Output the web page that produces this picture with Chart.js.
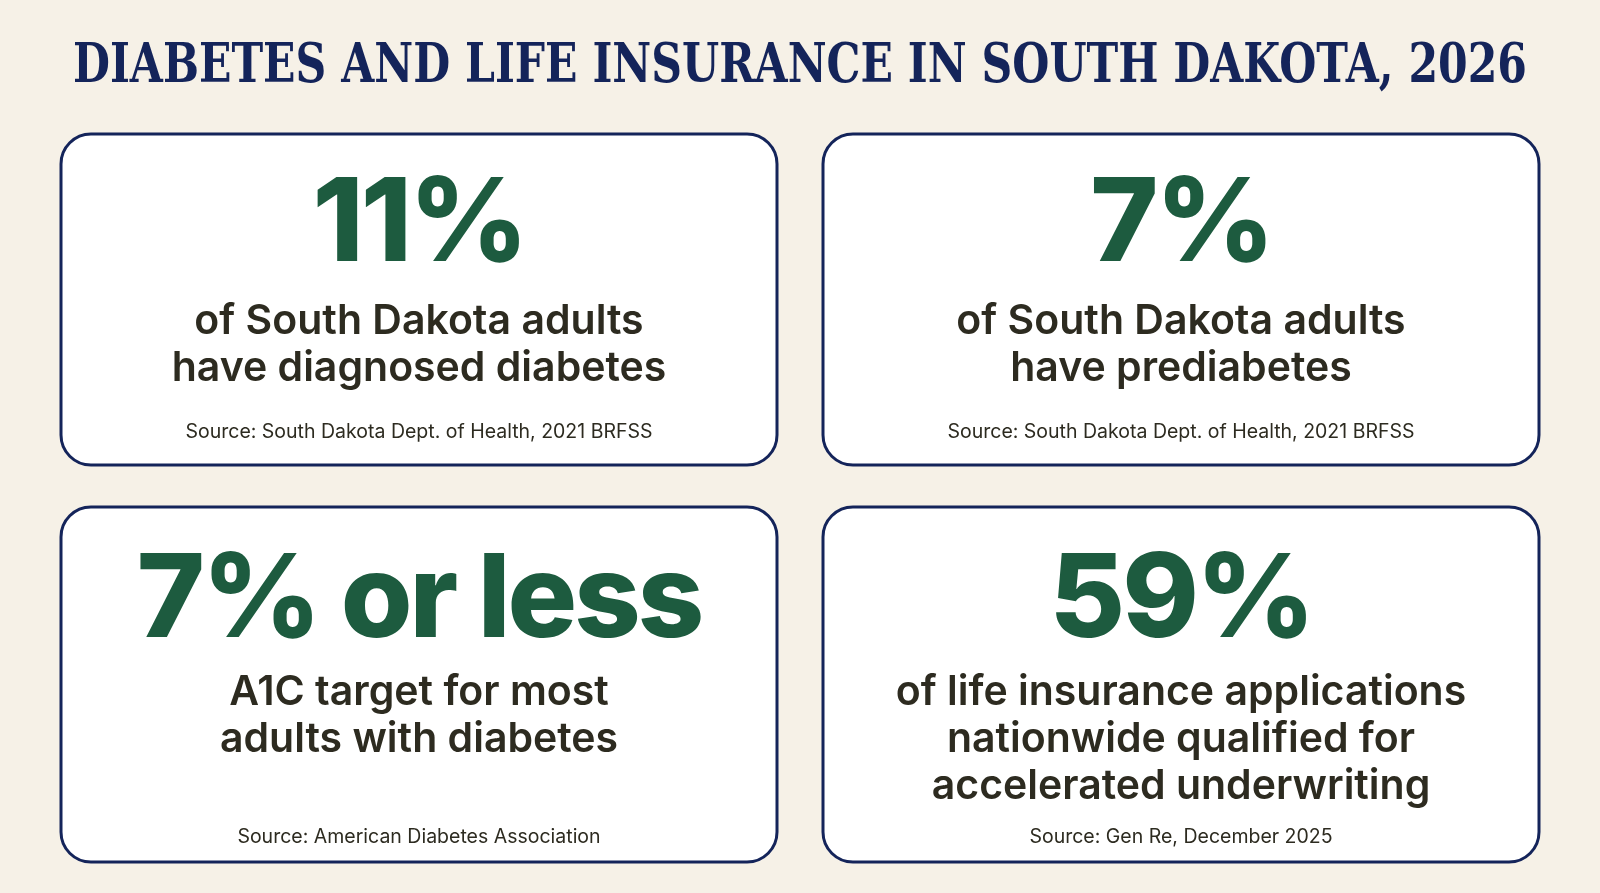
<!DOCTYPE html>
<html><head><meta charset="utf-8">
<script src="https://cdn.jsdelivr.net/npm/chart.js@4"></script>
<style>html,body{margin:0;padding:0;background:#f6f1e7;overflow:hidden}</style>
</head><body>
<canvas id="c" width="1600" height="893"></canvas>
<script>
const title = 'DIABETES AND LIFE INSURANCE IN SOUTH DAKOTA, 2026';
const stats = ['11%', '7%', '7% or less', '59%'];
const descriptions = [
  ['of South Dakota adults', 'have diagnosed diabetes'],
  ['of South Dakota adults', 'have prediabetes'],
  ['A1C target for most', 'adults with diabetes'],
  ['of life insurance applications', 'nationwide qualified for', 'accelerated underwriting']
];
const sources = [
  'Source: South Dakota Dept. of Health, 2021 BRFSS',
  'Source: South Dakota Dept. of Health, 2021 BRFSS',
  'Source: American Diabetes Association',
  'Source: Gen Re, December 2025'
];

function rr(ctx,x,y,w,h,r){ctx.beginPath();ctx.moveTo(x+r,y);ctx.arcTo(x+w,y,x+w,y+h,r);ctx.arcTo(x+w,y+h,x,y+h,r);ctx.arcTo(x,y+h,x,y,r);ctx.arcTo(x,y,x+w,y,r);ctx.closePath();}

const infographic = {
  id:'infographic',
  afterDraw(chart){
    const ctx = chart.ctx;
    ctx.save();
    ctx.fillStyle='#f6f1e7'; ctx.fillRect(0,0,1600,893);
    ctx.textAlign='center'; ctx.textBaseline='middle';
    ctx.fillStyle='#14245a';
    ctx.font='bold 54px "DejaVu Serif", "Liberation Serif", serif';
    let tw = ctx.measureText(title).width;
    ctx.save(); ctx.translate(800,68); ctx.scale(1454/tw,1); ctx.fillText(title,0,0); ctx.restore();
    const cards=[[61,134,716,331,92,188,33],[823,134,716,331,92,188,33],[61,507,716,355,95,186,25],[823,507,716,355,95,186,25]];
    cards.forEach((c,i)=>{
      const [x,y,w,h,no,dO,so]=c; const cx=x+w/2;
      rr(ctx,x,y,w,h,30); ctx.fillStyle='#ffffff'; ctx.fill();
      ctx.lineWidth=3; ctx.strokeStyle='#14245a'; ctx.stroke();
      ctx.fillStyle='#1d5b3f';
      ctx.font='800 116px Inter, "Open Sans", sans-serif';
      ctx.letterSpacing='-3px';
      ctx.fillText(stats[i],cx,y+no);
      ctx.letterSpacing='0px';
      ctx.fillStyle='#2d2b20';
      ctx.font='600 41px Inter, "Open Sans", sans-serif';
      descriptions[i].forEach((l,j)=>ctx.fillText(l,cx,y+dO+j*47));
      ctx.font='19.5px Inter, "Open Sans", sans-serif';
      ctx.fillText(sources[i],cx,y+h-so);
    });
    ctx.restore();
  }
};
new Chart(document.getElementById('c'),{
  type:'bar',
  data:{labels:stats,datasets:[{data:[],backgroundColor:'transparent'}]},
  options:{responsive:false,animation:false,events:[],
    plugins:{legend:{display:false},tooltip:{enabled:false}},
    scales:{x:{display:false},y:{display:false}}},
  plugins:[infographic]
});
</script>
</body></html>
